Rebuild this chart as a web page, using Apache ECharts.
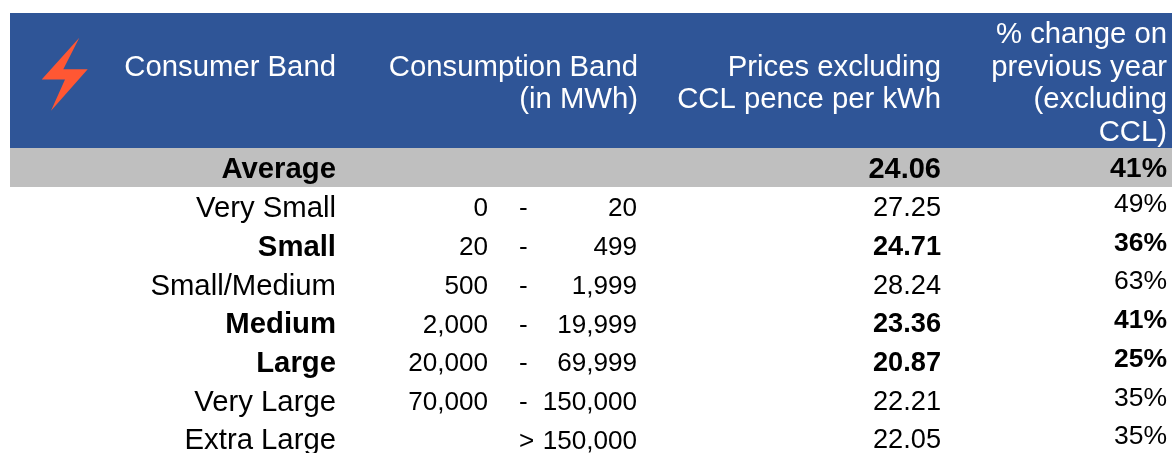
<!doctype html>
<html>
<head>
<meta charset="utf-8">
<title>Electricity prices by consumer band</title>
<style>
    html, body { margin: 0; padding: 0; background: #fff; }
    #chart { width: 1172px; height: 453px; }
</style>
</head>
<body>
<div id="chart"></div>
<script src="https://cdn.jsdelivr.net/npm/echarts@6/dist/echarts.min.js"></script>
<script>
// table content
var bands = ['Average', 'Very Small', 'Small', 'Small/Medium', 'Medium', 'Large', 'Very Large', 'Extra Large'];
var isBold = [true, false, true, false, true, true, false, false];
var bandFrom = ['', '0', '20', '500', '2,000', '20,000', '70,000', ''];
var bandSep = ['', '-', '-', '-', '-', '-', '-', '>'];
var bandTo = ['', '20', '499', '1,999', '19,999', '69,999', '150,000', '150,000'];
var prices = [24.06, 27.25, 24.71, 28.24, 23.36, 20.87, 22.21, 22.05];
var changes = [41, 49, 36, 63, 41, 25, 35, 35];
var headers = ['Consumer Band', 'Consumption Band\n(in MWh)', 'Prices excluding\nCCL pence per kWh', '% change on\nprevious year\n(excluding\nCCL)'];

// layout, in pixels (the axes below run 1:1 with the canvas)
var W = 1172, H = 453;
var left = 10, top0 = 13, headBottom = 148, avgBottom = 187;
var rowY0 = 169.5, rowH = 38.7;
var FONT = '"Liberation Sans", Arial, sans-serif';
var headSize = 29.3, headLine = 32.7;

var cells = [];
// size = font size for the body rows, avgSize = font size on the grey row
function addCol(values, x, align, size, avgSize, bold, dy) {
    values.forEach(function (v, i) {
        if (v === '') return;
        cells.push({
            value: [x, rowY0 + rowH * i + (i > 0 ? dy : 0)],
            text: String(v),
            align: align,
            size: i === 0 ? avgSize : size,
            bold: bold && isBold[i]
        });
    });
}
addCol(bands, 336, 'right', 29.3, 29.3, true, 1);
addCol(bandFrom, 488, 'right', 26.1, 26.1, false, 1);
addCol(bandSep, 519, 'left', 26.1, 26.1, false, 1);
addCol(bandTo, 637, 'right', 26.1, 26.1, false, 1);
addCol(prices.map(function (p) { return p.toFixed(2); }), 941, 'right', 27.2, 29, true, 0.5);
addCol(changes.map(function (c) { return c + '%'; }), 1167, 'right', 26.5, 28.5, true, -3.5);

var headCells = [
    { value: [336, 68], text: headers[0], size: headSize },
    { value: [638, 84], text: headers[1], size: headSize },
    { value: [941, 84], text: headers[2], size: headSize },
    { value: [1167, 84], text: headers[3], size: headSize }
];

var boltShape = [[79.3, 37.7], [63.3, 69.3], [87.7, 69.3], [51, 110.7], [65, 79.5], [41.7, 79.5]];

function renderBand(params, api) {
    var a = api.coord([api.value(0), api.value(1)]);
    var b = api.coord([api.value(2), api.value(3)]);
    return {
        type: 'rect',
        shape: { x: a[0], y: a[1], width: b[0] - a[0], height: b[1] - a[1] },
        style: { fill: api.value(4) === 0 ? '#2f5597' : '#bfbfbf' }
    };
}
function renderText(list, color) {
    return function (params, api) {
        var d = list[params.dataIndex];
        var p = api.coord(d.value);
        return {
            type: 'text',
            x: p[0], y: p[1],
            style: {
                text: d.text,
                fill: color,
                fontFamily: FONT,
                fontSize: d.size,
                fontWeight: d.bold ? 'bold' : 'normal',
                align: d.align || 'right',
                verticalAlign: 'middle',
                lineHeight: headLine
            }
        };
    };
}

var chart = echarts.init(document.getElementById('chart'), null, { renderer: 'canvas' });
chart.setOption({
    animation: false,
    grid: { left: 0, right: 0, top: 0, bottom: 0 },
    xAxis: { type: 'value', min: 0, max: W, show: false },
    yAxis: { type: 'value', min: 0, max: H, inverse: true, show: false },
    series: [
        {
            type: 'custom', silent: true, z: 1, renderItem: renderBand,
            data: [[left, top0, W, headBottom, 0], [left, headBottom, W, avgBottom, 1]]
        },
        {
            type: 'custom', silent: true, z: 2,
            renderItem: function (params, api) {
                return {
                    type: 'polygon',
                    shape: { points: boltShape.map(function (p) { return api.coord(p); }) },
                    style: { fill: '#ff5733' }
                };
            },
            data: [[0, 0]]
        },
        {
            type: 'custom', silent: true, z: 3, renderItem: renderText(headCells, '#ffffff'),
            data: headCells.map(function (c) { return c.value; })
        },
        {
            type: 'custom', silent: true, z: 3, renderItem: renderText(cells, '#000000'),
            data: cells.map(function (c) { return c.value; })
        }
    ]
});
</script>
</body>
</html>
